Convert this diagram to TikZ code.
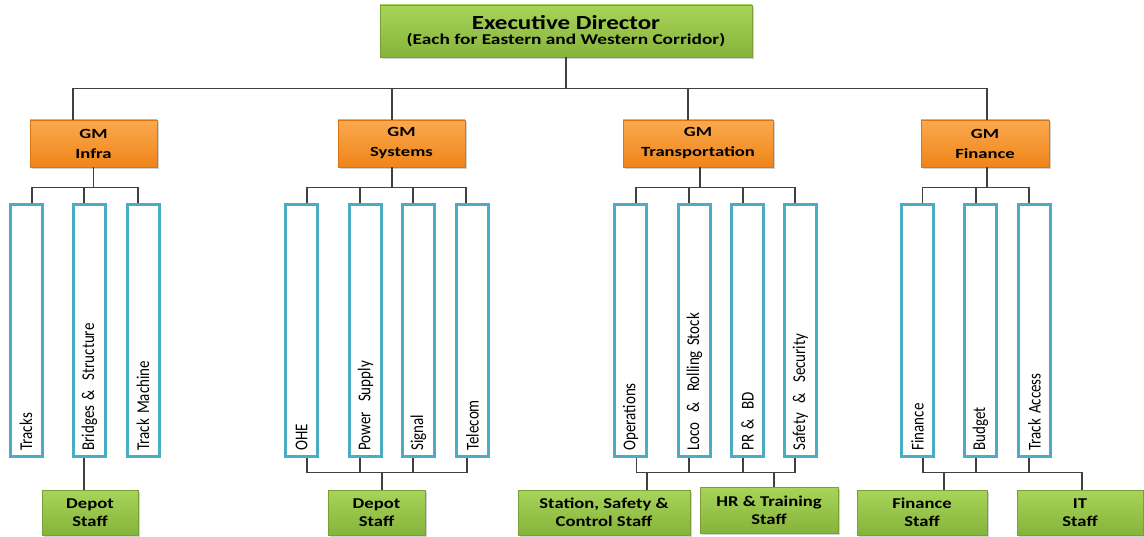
\documentclass[tikz,border=0pt]{standalone}
\usepackage{fontspec}
\setmainfont{Carlito}
\usetikzlibrary{shadows}
\definecolor{linec}{HTML}{404040}
\definecolor{vblue}{HTML}{4BACC6}
\definecolor{gtop}{HTML}{A8D45A}
\definecolor{gbot}{HTML}{86B33A}
\definecolor{gborder}{HTML}{7A9F35}
\definecolor{otop}{HTML}{FBA94F}
\definecolor{obot}{HTML}{EE8519}
\definecolor{oborder}{HTML}{D9760F}
\newcommand\sxt[1]{\scalebox{1.33}[1]{#1}}
\newcommand\sxs[1]{\scalebox{1.24}[1]{#1}}
\newcommand\sxe[1]{\scalebox{1.25}[1]{#1}}
\newcommand\vtx[1]{\scalebox{1}[1.2]{#1}}
\tikzset{
  conn/.style={draw=linec, line width=1.5pt},
  shade box/.style={drop shadow={opacity=0.35, shadow xshift=2pt, shadow yshift=-2pt}},
  greenbox/.style={shade box, draw=gborder, line width=0.8pt, top color=gtop, bottom color=gbot,
    align=center, font=\fontsize{15}{18}\selectfont\bfseries, inner sep=0pt},
  gmbox/.style={shade box, draw=oborder, line width=0.8pt, top color=otop, bottom color=obot,
    align=center, font=\fontsize{14}{20}\selectfont\bfseries, inner sep=0pt,
    minimum height=47pt},
  vbox/.style={draw=vblue, line width=3pt, fill=white, rotate=90,
    minimum height=32pt, text width=240pt, inner xsep=6pt, inner ysep=0pt, align=left,
    font=\fontsize{15}{17}\selectfont},
}
\begin{document}
\begin{tikzpicture}[x=1pt,y=-1pt]
\useasboundingbox (0,0) rectangle (1144,537);
% top
\node[greenbox, minimum width=372pt, minimum height=52pt,
  font=\bfseries] (ed) at (566,31)
  {\fontsize{20}{18}\selectfont\sxe{Executive Director}\\[3pt]
   \fontsize{15}{16}\selectfont\scalebox{1.29}[1]{(Each for Eastern and Western Corridor)}};
% GM boxes
\node[gmbox, minimum width=127pt] (infra) at (93.5,143.5) {\sxt{GM}\\\sxt{Infra}};
\node[gmbox, minimum width=127pt] (sys) at (401.5,143.5) {\sxt{GM}\\\sxt{Systems}};
\node[gmbox, minimum width=150pt] (trans) at (698,143.5) {\sxt{GM}\\\sxt{Transportation}};
\node[gmbox, minimum width=128pt] (fin) at (985,143.5) {\sxt{GM}\\\sxt{Finance}};
% vertical boxes
\node[vbox] (tracks) at (26,330.5) {\vtx{Tracks}};
\node[vbox] (bridges) at (89.5,330.5) {\vtx{Bridges \&\ \ Structure}};
\node[vbox] (tmach) at (143,330.5) {\vtx{Track Machine}};
\node[vbox] (ohe) at (301.5,330.5) {\vtx{OHE}};
\node[vbox] (power) at (365.5,330.5) {\vtx{Power\ \ Supply}};
\node[vbox] (signal) at (418.5,330.5) {\vtx{Signal}};
\node[vbox] (telecom) at (472.5,330.5) {\vtx{Telecom}};
\node[vbox] (ops) at (630.5,330.5) {\vtx{Operations}};
\node[vbox] (loco) at (694.5,330.5) {\vtx{Loco\ \ \&\ \ Rolling Stock}};
\node[vbox] (prbd) at (747.5,330.5) {\vtx{PR\ \&\ \ BD}};
\node[vbox] (safety) at (800.5,330.5) {\vtx{Safety\ \ \&\ \ Security}};
\node[vbox] (vfin) at (917.5,330.5) {\vtx{Finance}};
\node[vbox] (budget) at (980.5,330.5) {\vtx{Budget}};
\node[vbox] (taccess) at (1034.5,330.5) {\vtx{Track Access}};
% staff boxes
\node[greenbox, minimum width=96pt, minimum height=45pt] (idepot) at (90,512.5) {\sxs{Depot}\\\sxs{Staff}};
\node[greenbox, minimum width=97pt, minimum height=45pt] (sdepot) at (376.5,512.5) {\sxs{Depot}\\\sxs{Staff}};
\node[greenbox, minimum width=172pt, minimum height=45pt] (station) at (604,512.5) {\sxs{Station, Safety \&}\\\sxs{Control Staff}};
\node[greenbox, minimum width=138pt, minimum height=46pt] (hr) at (769,510) {\sxs{HR \& Training}\\\sxs{Staff}};
\node[greenbox, minimum width=130pt, minimum height=45pt] (fstaff) at (922,512.5) {\sxs{Finance}\\\sxs{Staff}};
\node[greenbox, minimum width=126pt, minimum height=45pt] (it) at (1080,512.5) {\sxs{IT}\\\sxs{Staff}};
% connectors: top level
\draw[conn] (ed.south) -- ++(0,31) coordinate (t0);
\draw[conn] (t0) -| ([xshift=-20.5pt]infra.north);
\draw[conn] (t0) -| ([xshift=-9.5pt]sys.north);
\draw[conn] (t0) -| ([xshift=-10pt]trans.north);
\draw[conn] (t0) -| ([xshift=2pt]fin.north);
% GM to departments
\draw[conn] (infra.south) -- ++(0,20) coordinate (bi);
\draw[conn] (bi) -| ([xshift=6pt]tracks.east);
\draw[conn] (bi) -| ([xshift=-5.5pt]bridges.east);
\draw[conn] (bi) -| ([xshift=-5pt]tmach.east);
\draw[conn] ([xshift=-9.5pt]sys.south) -- ++(0,20) coordinate (bs);
\draw[conn] (bs) -| ([xshift=5.5pt]ohe.east);
\draw[conn] (bs) -| ([xshift=-5.5pt]power.east);
\draw[conn] (bs) -| ([xshift=-5.5pt]signal.east);
\draw[conn] (bs) -| ([xshift=-6.5pt]telecom.east);
\draw[conn] ([xshift=2pt]trans.south) -- ++(0,20) coordinate (bt);
\draw[conn] (bt) -| ([xshift=5.5pt]ops.east);
\draw[conn] (bt) -| ([xshift=-5.5pt]loco.east);
\draw[conn] (bt) -| ([xshift=-4.5pt]prbd.east);
\draw[conn] (bt) -| ([xshift=-5.5pt]safety.east);
\draw[conn] ([xshift=2pt]fin.south) -- ++(0,20) coordinate (bf);
\draw[conn] (bf) -| ([xshift=5pt]vfin.east);
\draw[conn] (bf) -| ([xshift=-4.5pt]budget.east);
\draw[conn] (bf) -| ([xshift=-5.5pt]taccess.east);
% departments to staff
\draw[conn] ([xshift=-5.5pt]bridges.west) -- ([xshift=-6pt]idepot.north);
\draw[conn] ([xshift=5.5pt]sdepot.north) -- ++(0,-17) coordinate (sb);
\draw[conn] ([xshift=5.5pt]ohe.west) |- (sb);
\draw[conn] ([xshift=-5.5pt]power.west) |- (sb);
\draw[conn] ([xshift=-5.5pt]signal.west) |- (sb);
\draw[conn] ([xshift=-5.5pt]telecom.west) |- (sb);
\draw[conn] ([xshift=43pt]station.north) -- ++(0,-17) coordinate (tb);
\draw[conn] ([xshift=6pt]ops.west) |- (tb);
\draw[conn] ([xshift=-5.5pt]loco.west) |- (tb);
\draw[conn] ([xshift=-4.5pt]prbd.west) |- (tb);
\draw[conn] ([xshift=-5.5pt]safety.west) |- (tb);
\draw[conn] ([xshift=5pt]hr.north) |- (tb);
\draw[conn] ([xshift=22pt]fstaff.north) -- ++(0,-17) coordinate (fb);
\draw[conn] ([xshift=5.5pt]vfin.west) |- (fb);
\draw[conn] ([xshift=-4.5pt]budget.west) |- (fb);
\draw[conn] ([xshift=-5.5pt]taccess.west) |- (fb);
\draw[conn] ([xshift=2pt]it.north) |- (fb);
\end{tikzpicture}
\end{document}
